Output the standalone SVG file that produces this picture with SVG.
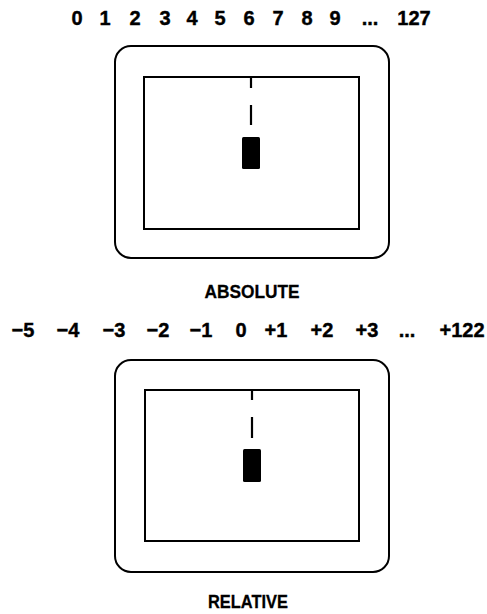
<svg xmlns="http://www.w3.org/2000/svg" width="487" height="614" viewBox="0 0 487 614">
<style>
.lbl{font-family:"Liberation Sans",Arial,sans-serif;font-weight:bold;font-size:20px;fill:#000;stroke:#000;stroke-width:0.4;text-anchor:middle}
.cap{font-family:"Liberation Sans",Arial,sans-serif;font-weight:bold;font-size:19px;fill:#000;stroke:#000;stroke-width:0.3;text-anchor:middle}
.box{fill:none;stroke:#000;stroke-width:2}
.dash{stroke:#000;stroke-width:2.2;fill:none}
</style>
<rect width="487" height="614" fill="#fff"/>
<g id="absolute-scale">
<text class="lbl" x="77" y="25">0</text>
<text class="lbl" x="105" y="25">1</text>
<text class="lbl" x="135" y="25">2</text>
<text class="lbl" x="165" y="25">3</text>
<text class="lbl" x="192" y="25">4</text>
<text class="lbl" x="220" y="25">5</text>
<text class="lbl" x="249" y="25">6</text>
<text class="lbl" x="278" y="25">7</text>
<text class="lbl" x="307" y="25">8</text>
<text class="lbl" x="335" y="25">9</text>
<text class="lbl" x="370" y="25">...</text>
<text class="lbl" x="414" y="25">127</text>
</g>
<g id="absolute-screen">
<rect class="box" x="115" y="46" width="274" height="212" rx="16"/>
<rect class="box" x="144" y="77" width="215" height="152"/>
<line class="dash" x1="251" y1="77" x2="251" y2="88"/>
<line class="dash" x1="251" y1="105" x2="251" y2="125"/>
<rect x="242" y="137" width="18" height="32" rx="1.5" fill="#000"/>
</g>
<text id="absolute-caption" class="cap" x="252" y="298" textLength="95" lengthAdjust="spacingAndGlyphs">ABSOLUTE</text>
<g id="relative-scale">
<text class="lbl" x="23" y="337">−5</text>
<text class="lbl" x="68" y="337">−4</text>
<text class="lbl" x="114" y="337">−3</text>
<text class="lbl" x="158" y="337">−2</text>
<text class="lbl" x="201" y="337">−1</text>
<text class="lbl" x="241" y="337">0</text>
<text class="lbl" x="276" y="337">+1</text>
<text class="lbl" x="322" y="337">+2</text>
<text class="lbl" x="367" y="337">+3</text>
<text class="lbl" x="407" y="337">...</text>
<text class="lbl" x="462" y="337">+122</text>
</g>
<g id="relative-screen">
<rect class="box" x="115" y="360" width="274" height="212" rx="16"/>
<rect class="box" x="145" y="390" width="214" height="151"/>
<line class="dash" x1="252" y1="390" x2="252" y2="400"/>
<line class="dash" x1="252" y1="417" x2="252" y2="438"/>
<rect x="243" y="449" width="18" height="33" rx="1.5" fill="#000"/>
</g>
<text id="relative-caption" class="cap" x="248" y="608" textLength="80" lengthAdjust="spacingAndGlyphs">RELATIVE</text>
</svg>
